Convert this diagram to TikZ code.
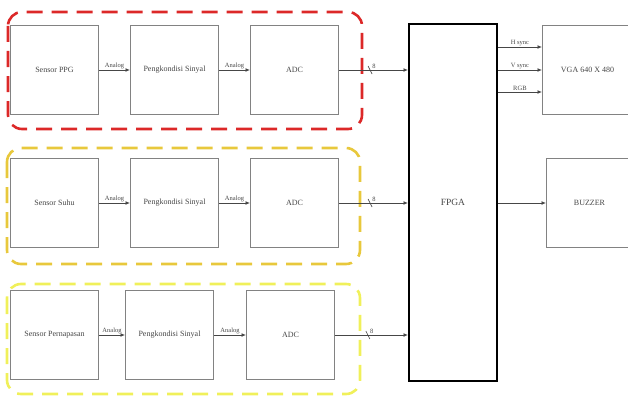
\documentclass[tikz,border=0pt]{standalone}
\usepackage{fontspec}
\setmainfont{Liberation Serif}
\usetikzlibrary{arrows.meta}
\definecolor{grp1}{RGB}{220,40,40}
\definecolor{grp2}{RGB}{232,200,60}
\definecolor{grp3}{RGB}{240,240,90}
\definecolor{boxc}{RGB}{130,130,130}
\definecolor{txtc}{RGB}{70,70,70}
\tikzset{
  blk/.style={draw=boxc, line width=1pt, minimum width=88pt, minimum height=89pt, inner sep=0pt, font=\fontsize{8}{9}\selectfont, text=txtc, anchor=north west},
  grpbox/.style={line width=2.6pt, rounded corners=14pt, dash pattern=on 16pt off 9pt},
  conn/.style={draw=txtc, line width=0.9pt, -{Latex[length=4.5pt,width=4pt]}},
  lbl/.style={font=\fontsize{6.5}{7}\selectfont, text=txtc, inner sep=1pt},
}
\begin{document}
\begin{tikzpicture}[x=1pt,y=-1pt]
\useasboundingbox (0,0) rectangle (628,396);
% groups
\draw[grpbox, draw=grp1] (8,12) rectangle (362,129);
\draw[grpbox, draw=grp2] (7,148) rectangle (360,264);
\draw[grpbox, draw=grp3] (7,284) rectangle (360,394);
% row 1
\node[blk] (s1) at (10,25) {Sensor PPG};
\node[blk] (p1) at (130,25) {Pengkondisi Sinyal};
\node[blk] (a1) at (250,25) {ADC};
% row 2
\node[blk] (s2) at (10,158) {Sensor Suhu};
\node[blk] (p2) at (130,158) {Pengkondisi Sinyal};
\node[blk] (a2) at (250,158) {ADC};
% row 3
\node[blk] (s3) at (10,290) {Sensor Pernapasan};
\node[blk] (p3) at (125,290) {Pengkondisi Sinyal};
\node[blk] (a3) at (246,290) {ADC};
% FPGA and outputs
\node[draw=black, line width=1.8pt, minimum width=88pt, minimum height=357pt, anchor=north west, inner sep=0pt, font=\fontsize{9.5}{11}\selectfont, text=txtc] (f) at (408,23) {FPGA};
\node[blk, minimum width=90pt] (v) at (542,25) {VGA 640 X 480};
\node[blk, minimum width=86pt] (b) at (546,158) {BUZZER};
% analog arrows
\foreach \a/\b in {s1/p1,p1/a1,s2/p2,p2/a2,s3/p3,p3/a3}{
  \draw[conn] (\a.east) -- node[lbl, above] {Analog} (\b.west);
}
% ADC to FPGA
\foreach \a in {a1,a2,a3}{
  \draw[conn] (\a.east) -- (\a.east -| f.west) coordinate[pos=0.45] (m\a);
  \draw[draw=txtc, line width=0.6pt] ([xshift=-2pt,yshift=4pt]m\a) -- ([xshift=2pt,yshift=-4pt]m\a);
  \node[lbl, anchor=south west] at ([xshift=1pt]m\a) {8};
}
% FPGA to VGA
\draw[conn] (f.east |- 0,47) coordinate (h0) -- node[lbl, above] {H sync} (h0 -| v.west);
\draw[conn] (f.east |- 0,70) coordinate (v0) -- node[lbl, above] {V sync} (v0 -| v.west);
\draw[conn] (f.east |- 0,92) coordinate (r0) -- node[lbl, above] {RGB} (r0 -| v.west);
% FPGA to buzzer
\draw[conn] (f.east |- b.west) -- (b.west);
\end{tikzpicture}
\end{document}
